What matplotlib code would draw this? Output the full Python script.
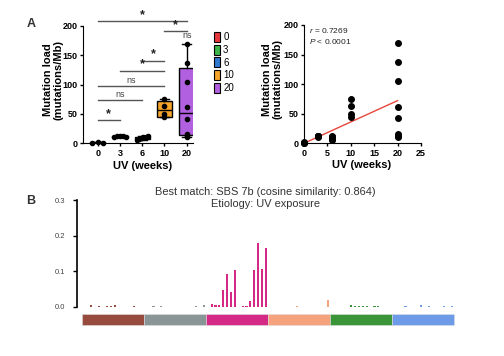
import numpy as np
import matplotlib
matplotlib.use("Agg")
import matplotlib.pyplot as plt
from matplotlib.patches import Patch

plt.rcParams['font.family'] = ['Liberation Sans', 'DejaVu Sans']
plt.rcParams['mathtext.fontset'] = 'custom'
plt.rcParams['mathtext.rm'] = 'Liberation Sans'
plt.rcParams['mathtext.it'] = 'Liberation Sans:italic'

# ---- panel A data (mutations/Mb) ----
weeks = [0, 3, 6, 10, 20]
load_0 = [1.0, 1.5, 1.0]
load_3 = [11, 13, 12, 12.5, 11.5]
load_6 = [6, 8, 9, 10, 11, 12]
load_10 = [44, 50, 63, 75]
load_20 = [10, 13, 16, 42, 62, 105, 137, 170]
groups = [load_0, load_3, load_6, load_10, load_20]
group_colors = ['#E8383D', '#3DB54A', '#2F78D0', '#F4A52A', '#B160E0']

# significance brackets: (group a, group b, height, label)
sig_a = [0, 3, 4, 2, 1, 0, 0, 0]
sig_b = [4, 4, 4, 3, 3, 3, 2, 1]
sig_y = [208, 191, 174, 141, 123, 98, 74, 39]
sig_lab = ['*', '*', 'ns', '*', '*', 'ns', 'ns', '*']

r_text = '$r$ = 0.7269'
p_text = '$P$ < 0.0001'

# ---- panel B: 96-channel SBS spectrum, 16 channels per class ----
sbs_ca = [0, 0, 0.006, 0, 0.003, 0, 0.003, 0.003, 0.004, 0, 0, 0, 0, 0.003, 0, 0]
sbs_cg = [0, 0, 0.002, 0, 0.002, 0, 0, 0, 0, 0, 0, 0, 0, 0.002, 0, 0.006]
sbs_ct = [0, 0.008, 0.005, 0.006, 0.047, 0.091, 0.040, 0.104,
          0, 0.001, 0.002, 0.016, 0.102, 0.178, 0.106, 0.165]
sbs_ta = [0, 0, 0, 0, 0, 0, 0, 0.002, 0, 0, 0, 0, 0, 0, 0, 0.020]
sbs_tc = [0, 0, 0, 0, 0, 0.005, 0.003, 0.003, 0.003, 0.003, 0, 0.003, 0.003, 0, 0, 0]
sbs_tg = [0, 0, 0, 0.002, 0, 0, 0, 0.005, 0, 0.001, 0, 0, 0, 0.002, 0, 0.002]
sbs_classes = [sbs_ca, sbs_cg, sbs_ct, sbs_ta, sbs_tc, sbs_tg]
class_colors = ['#974B3E', '#8A9695', '#D42A86', '#F7A27E', '#3A9438', '#6E9BE8']

fig = plt.figure(figsize=(5.04, 3.56), dpi=100)

# ================= A left: box plot =================
ax1 = fig.add_axes([0.1647, 0.5975, 0.2177, 0.3295])
stats = []
for g in groups:
    q1, med, q3 = np.percentile(g, [25, 50, 75], method='weibull')
    stats.append(dict(med=med, q1=q1, q3=q3, whislo=min(g), whishi=max(g), fliers=[]))
bp = ax1.bxp(stats, positions=range(len(groups)), widths=0.68, capwidths=0.4,
             patch_artist=True, showfliers=False,
             boxprops=dict(linewidth=1.0, edgecolor='black'),
             medianprops=dict(color='black', linewidth=1.0),
             whiskerprops=dict(color='black', linewidth=1.0),
             capprops=dict(color='black', linewidth=1.0))
for patch, c in zip(bp['boxes'], group_colors):
    patch.set_facecolor(c)
for i, g in enumerate(groups):
    # spread points sideways only where they would pile up
    if max(g) - min(g) < 20:
        offs = np.linspace(-0.25, 0.25, len(g))
    else:
        offs = np.zeros(len(g))
    ax1.scatter(i + offs, g, s=9, color='black', zorder=4, clip_on=False)

for a, b, y, lab in zip(sig_a, sig_b, sig_y, sig_lab):
    ax1.plot([a, b], [y, y], color='#555555', lw=1.0, clip_on=False)
    if lab == '*':
        ax1.text((a + b) / 2, y + 1, lab, ha='center', va='bottom',
                 fontsize=9, fontweight='bold', color='#222222')
    else:
        ax1.text((a + b) / 2, y + 2, lab, ha='center', va='bottom',
                 fontsize=6.5, color='#444444')

ax1.set_xlim(-0.66, 4.27)
ax1.set_ylim(0, 200)
ax1.set_xticks(range(len(weeks)))
ax1.set_xticklabels([str(w) for w in weeks])
ax1.set_yticks([0, 50, 100, 150, 200])
ax1.spines['top'].set_visible(False)
ax1.spines['right'].set_visible(False)
ax1.tick_params(labelsize=6.5, length=2.5, width=1, pad=1.5)
for t in ax1.get_xticklabels() + ax1.get_yticklabels():
    t.set_fontweight('bold')
ax1.set_ylabel('Mutation load\n(mutations/Mb)', fontsize=8, fontweight='bold',
               linespacing=1.0)
ax1.yaxis.set_label_coords(-0.18, 0.54)
ax1.set_xlabel('UV (weeks)', fontsize=8, fontweight='bold')
ax1.xaxis.set_label_coords(0.544, -0.147)

handles = [Patch(facecolor=c, edgecolor='black', linewidth=0.8) for c in group_colors]
fig.legend(handles, [str(w) for w in weeks], loc='upper left',
           bbox_to_anchor=(0.408, 0.935), frameon=False, fontsize=7,
           handlelength=0.6, handleheight=1.2, handletextpad=0.3, labelspacing=0.25)

# ================= A right: scatter + regression =================
ax2 = fig.add_axes([0.6032, 0.5975, 0.2321, 0.3323])
xs = np.concatenate([[w] * len(g) for w, g in zip(weeks, groups)])
ys = np.concatenate(groups)
ax2.scatter(xs, ys, s=16, color='black', zorder=3, clip_on=False)
slope, icpt = np.polyfit(xs, ys, 1)
xl = np.array([0, 20])
ax2.plot(xl, slope * xl + icpt, color='#E8473B', lw=1.0, zorder=2)
ax2.set_xlim(0, 25)
ax2.set_ylim(0, 200)
ax2.set_xticks([0, 5, 10, 15, 20, 25])
ax2.set_yticks([0, 50, 100, 150, 200])
ax2.spines['top'].set_visible(False)
ax2.spines['right'].set_visible(False)
ax2.tick_params(labelsize=6.5, length=2.5, width=1, pad=1.5)
for t in ax2.get_xticklabels() + ax2.get_yticklabels():
    t.set_fontweight('bold')
ax2.set_ylabel('Mutation load\n(mutations/Mb)', fontsize=8, fontweight='bold',
               linespacing=1.0)
ax2.yaxis.set_label_coords(-0.185, 0.54)
ax2.set_xlabel('UV (weeks)', fontsize=8, fontweight='bold')
ax2.xaxis.set_label_coords(0.496, -0.145)
ax2.text(0.04, 0.955, r_text, transform=ax2.transAxes, fontsize=6, va='center', color='#222222')
ax2.text(0.04, 0.86, p_text, transform=ax2.transAxes, fontsize=6, va='center', color='#222222')

# ================= B: SBS spectrum =================
ax3 = fig.add_axes([0.1534, 0.1385, 0.7474, 0.2997])
for k, (vals, c) in enumerate(zip(sbs_classes, class_colors)):
    pos = np.arange(16) + 16 * k
    ax3.bar(pos, vals, width=0.55, color=c, linewidth=0)
    ax3.bar(16 * k + 7.5, 0.0301, width=16, bottom=-0.0515, color=c,
            edgecolor='#dddddd', linewidth=0.4, clip_on=False)
ax3.set_xlim(-1.63, 95.5)
ax3.set_ylim(0, 0.3)
ax3.set_yticks([0, 0.1, 0.2, 0.3])
ax3.set_yticklabels(['0.0', '0.1', '0.2', '0.3'])
ax3.set_xticks([])
for s in ['top', 'right', 'bottom']:
    ax3.spines[s].set_visible(False)
ax3.spines['left'].set_linewidth(1.2)
ax3.tick_params(axis='y', labelsize=5.5, length=3, width=1, pad=6, labelcolor='#444444')
ax3.text(0.5, 1.015, 'Best match: SBS 7b (cosine similarity: 0.864)\nEtiology: UV exposure',
         transform=ax3.transAxes, ha='center', va='center', fontsize=7.9,
         color='#333333', linespacing=1.25)

fig.text(0.061, 0.933, 'A', fontsize=9, fontweight='bold', ha='center', va='center', color='#333333')
fig.text(0.061, 0.435, 'B', fontsize=9, fontweight='bold', ha='center', va='center', color='#333333')

fig.savefig('out.png', dpi=100)
